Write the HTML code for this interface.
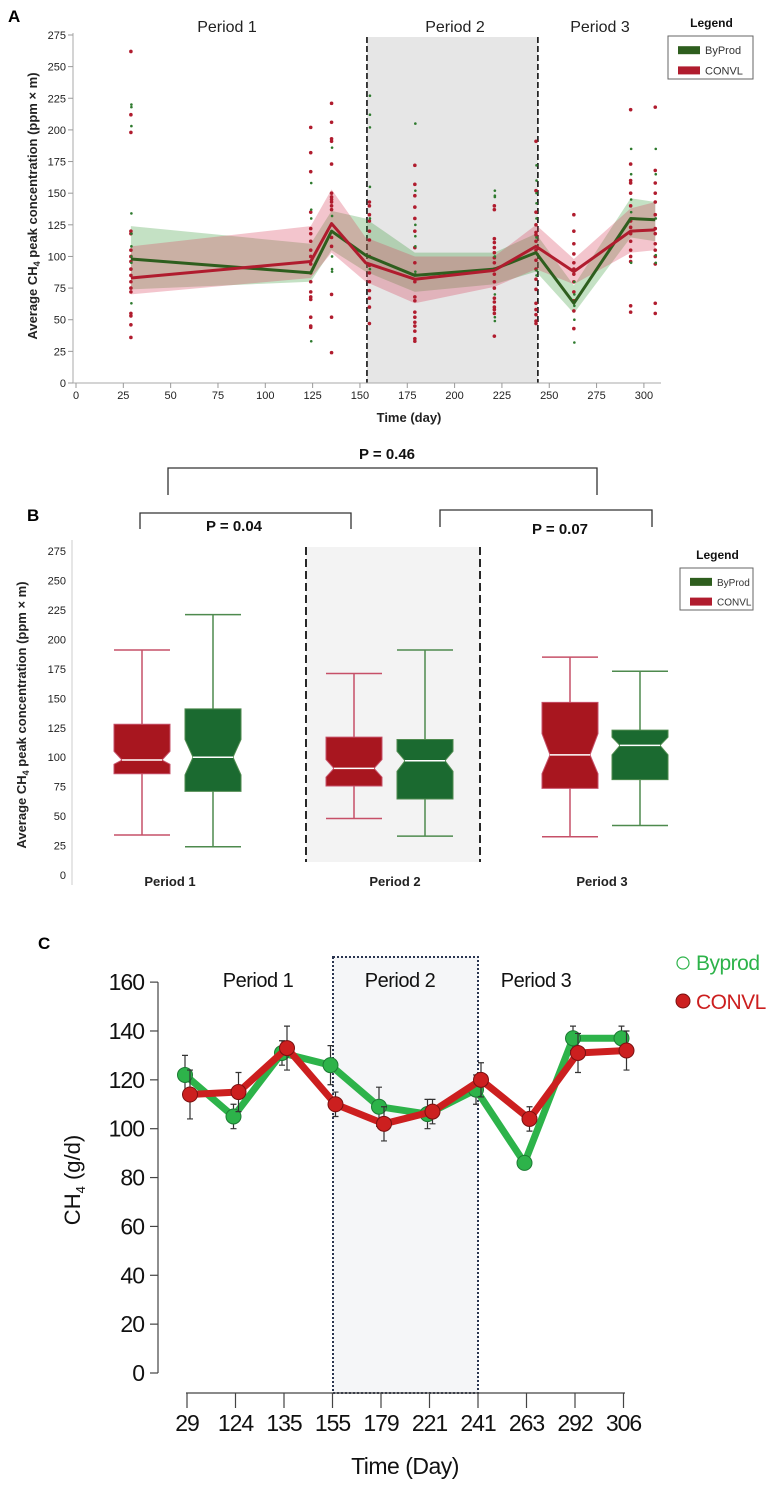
<!DOCTYPE html>
<html><head><meta charset="utf-8">
<style>
html,body{margin:0;padding:0;background:#fff;}
svg{display:block;font-family:"Liberation Sans Narrow","Liberation Sans",sans-serif;}
</style></head>
<body>
<svg id="fig" width="772" height="1486" viewBox="0 0 772 1486" xmlns="http://www.w3.org/2000/svg">
<g id="pa"></g>
<g id="pb"></g>
<g id="pc"></g>
</svg>
<script>
// ---------- Panel A data ----------
const aDays = [29,124,135,153,179,221,243,263,293,306];
const aGreen = [98,87,120,101,85,90,103,63,130,129];
const aRed = [83,96,126,95,82,89,108,88,120,121];
const aGreenUp = [124,110,136,130,103,103,118,77,146,143];
const aGreenLo = [74,80,105,88,72,78,88,55,115,112];
const aRedUp = [108,124,153,115,100,100,125,98,138,143];
const aRedLo = [70,83,103,80,63,76,90,78,103,105];
const aPtDays = [29,124,135,155,179,221,243,263,293,306];
const aRedPts = [
 [262,212,198,120,118,105,100,96,90,85,80,75,72,55,53,46,36],
 [202,182,167,135,122,118,112,105,100,94,87,80,72,68,66,52,45,44],
 [221,206,193,191,173,150,147,145,143,140,137,125,115,108,70,52,24],
 [143,140,133,128,120,113,100,93,87,80,73,67,60,47],
 [172,157,148,139,130,120,107,95,80,68,65,56,52,48,45,41,35,33],
 [140,137,114,111,107,103,99,95,90,86,80,75,67,64,60,58,55,37],
 [191,152,135,125,119,117,112,105,97,90,82,74,63,58,54,49,47],
 [133,120,110,102,95,90,86,80,72,65,57,43],
 [216,173,160,158,150,140,128,123,118,112,105,100,96,61,56],
 [218,168,158,150,143,133,122,118,110,105,100,94,63,55]];
const aGreenPts = [
 [220,218,203,134,118,108,100,95,63],
 [158,137,130,33],
 [186,132,100,90,88],
 [227,212,202,155,130,90],
 [205,152,125,116,108,88,86],
 [152,148,147,100,70,52,49],
 [172,160,150,142,130,115,89,85],
 [80,70,61,50,32],
 [185,165,145,135,130,95],
 [185,165,130,101,95]];
const aXTicks = [0,25,50,75,100,125,150,175,200,225,250,275,300];
const aYTicks = [0,25,50,75,100,125,150,175,200,225,250,275];

// ---------- Panel B data ----------
const bPeriods = ["Period 1","Period 2","Period 3"];
const bRedStats = [[34,86,94,97.6,105,128,191],[48,75.5,83,90.5,98,117,171],[32.5,73.5,86,102,120,146.5,185]];
const bGreenStats = [[24,71,85,100,115,141,221],[33,64.5,88,97,105,115,191],[42,81,102,110,117,123,173]];
const bYTicks = [0,25,50,75,100,125,150,175,200,225,250,275];

// ---------- Panel C data ----------
const cDays = ["29","124","135","155","179","221","241","263","292","306"];
const cGreen = [122,105,131,126,109,106,116,86,137,137];
const cRed = [114,115,133,110,102,107,120,104,131,132];
const cGreenErr = [8,5,5,8,8,6,6,2,5,5];
const cRedErr = [10,8,9,5,7,5,7,5,8,8];
const cYTicks = [0,20,40,60,80,100,120,140,160];

const NS="http://www.w3.org/2000/svg";
function mk(parent, tag, attrs, text){
  const e=document.createElementNS(NS,tag);
  for(const k in attrs) e.setAttribute(k,attrs[k]);
  if(text!==undefined) e.textContent=text;
  parent.appendChild(e); return e;
}

// ================= PANEL A =================
const pa=document.getElementById('pa');
const xA=d=>76+d*1.893, yA=v=>383-v*1.2655;
let t;
t=mk(pa,'text',{x:8,y:22,'font-size':17,'font-weight':'bold','font-family':'Liberation Sans,sans-serif'},'A');

let r=mk(pa,'rect',{x:xA(153.7),y:37,width:xA(244)-xA(153.7),height:383-37,fill:'#e6e6e6'});

[153.7,244].forEach(d=>{const l=mk(pa,'line',{x1:xA(d),x2:xA(d),y1:37,y2:383,stroke:'#111','stroke-width':1.6,'stroke-dasharray':'6,3'});
});
[["Period 1",227],["Period 2",455],["Period 3",600]].forEach(p=>{const e=mk(pa,'text',{x:p[1],y:32,'text-anchor':'middle','font-size':16,fill:'#222'},p[0]);
});
let ax=mk(pa,'line',{x1:73,x2:661,y1:383,y2:383,stroke:'#aaa'});
ax=mk(pa,'line',{x1:73,x2:73,y1:33,y2:383,stroke:'#aaa'});
aXTicks.forEach(v=>{mk(pa,'line',{x1:xA(v),x2:xA(v),y1:383,y2:388,stroke:'#999'});
 const e=mk(pa,'text',{x:xA(v),y:399,'text-anchor':'middle','font-size':11,fill:'#222'},String(v));
 });
aYTicks.forEach(v=>{mk(pa,'line',{x1:68,x2:73,y1:yA(v),y2:yA(v),stroke:'#999'});
 const e=mk(pa,'text',{x:66,y:yA(v)+4,'text-anchor':'end','font-size':11,fill:'#222'},String(v));
 });
t=mk(pa,'text',{x:409,y:422,'text-anchor':'middle','font-size':13,'font-weight':'bold',fill:'#222'},'Time (day)');

t=mk(pa,'text',{transform:'translate(37,206) rotate(-90)','text-anchor':'middle','font-size':13,'font-weight':'bold',fill:'#222','font-family':'Liberation Sans,sans-serif'});
t.innerHTML='Average CH<tspan font-size="9" dy="3">4</tspan><tspan dy="-3"> peak concentration (ppm × m)</tspan>';

function band(up,lo,fill,name){let d='';aDays.forEach((x,i)=>{d+=(i?'L':'M')+xA(x)+','+yA(up[i]);});
 for(let i=aDays.length-1;i>=0;i--) d+='L'+xA(aDays[i])+','+yA(lo[i]); d+='Z';
 const p=mk(pa,'path',{d:d,fill:fill,'fill-opacity':0.3});}
band(aGreenUp,aGreenLo,'#3c9a3c','byprod-ci-band');
band(aRedUp,aRedLo,'#d8405a','convl-ci-band');
aPtDays.forEach((d,i)=>{
 aRedPts[i].forEach(v=>{const c=mk(pa,'circle',{cx:xA(d),cy:yA(v),r:1.8,fill:'#b01c2e'});});
 aGreenPts[i].forEach(v=>{const c=mk(pa,'circle',{cx:xA(d)+0.5,cy:yA(v),r:1.3,fill:'#2e7a2e'});});
});
function line(vals,col,name){const p=mk(pa,'polyline',{points:aDays.map((d,i)=>xA(d)+','+yA(vals[i])).join(' '),fill:'none',stroke:col,'stroke-width':3,'stroke-linejoin':'round'});
 }
line(aGreen,'#2e5e1e','byprod-line');
line(aRed,'#b01c2e','convl-line');
function legend(g,x0,y0,y1,name,fs){
 const lg=mk(g,'g',{});
 mk(lg,'text',{x:(x0+753)/2+1,y:y0-9,'text-anchor':'middle','font-size':12,'font-weight':'bold',fill:'#111'},'Legend');
 mk(lg,'rect',{x:x0,y:y0,width:753-x0,height:y1-y0,fill:'#fff',stroke:'#666'});
 const h=(y1-y0);
 let s=mk(lg,'rect',{x:x0+10,y:y0+h*0.33-4,width:22,height:8,fill:'#2e5e1e'});
 mk(lg,'text',{x:x0+37,y:y0+h*0.33+4,'font-size':fs,fill:'#333'},'ByProd');
 s=mk(lg,'rect',{x:x0+10,y:y0+h*0.8-4,width:22,height:8,fill:'#b01c2e'});
 mk(lg,'text',{x:x0+37,y:y0+h*0.8+4,'font-size':fs,fill:'#333'},'CONVL');
}
legend(pa,668,36,79,'legend-a',11);

// ================= PANEL B =================
const pb=document.getElementById('pb');
const yB=v=>875-v*1.178;
const bRedX=[142,354,570], bGreenX=[213,425,640], bLabX=[170,395,602];
r=mk(pb,'rect',{x:306,y:547,width:174,height:315,fill:'#f3f3f3'});
[306,480].forEach(x=>{const l=mk(pb,'line',{x1:x,x2:x,y1:547,y2:862,stroke:'#111','stroke-width':1.8,'stroke-dasharray':'8,4'});});
t=mk(pb,'text',{x:27,y:521,'font-size':17,'font-weight':'bold','font-family':'Liberation Sans,sans-serif'},'B');
function bracket(x1,x2,yt,yb,label,lx,ly,name){const g=mk(pb,'g',{});
 mk(g,'path',{d:`M${x1},${yb} L${x1},${yt} L${x2},${yt} L${x2},${yb}`,fill:'none',stroke:'#333','stroke-width':1.3});
 mk(g,'text',{x:lx,y:ly,'text-anchor':'middle','font-size':15,'font-weight':'bold',fill:'#111'},label);}
bracket(168,597,468,495,'P = 0.46',387,459,'bracket-p046');
bracket(140,351,513,529,'P = 0.04',234,531,'bracket-p004');
bracket(440,652,510,527,'P = 0.07',560,534,'bracket-p007');
ax=mk(pb,'line',{x1:72,x2:72,y1:540,y2:885,stroke:'#ccc'});
bYTicks.forEach(v=>{const e=mk(pb,'text',{x:66,y:yB(v)+4,'text-anchor':'end','font-size':11,fill:'#222'},String(v));});
t=mk(pb,'text',{transform:'translate(26,715) rotate(-90)','text-anchor':'middle','font-size':13,'font-weight':'bold',fill:'#222','font-family':'Liberation Sans,sans-serif'});
t.innerHTML='Average CH<tspan font-size="9" dy="3">4</tspan><tspan dy="-3"> peak concentration (ppm × m)</tspan>';

function box(cx,s,fill,wcol,name){const g=mk(pb,'g',{});
 const w=28,n=8;
 mk(g,'line',{x1:cx,x2:cx,y1:yB(s[6]),y2:yB(s[0]),stroke:wcol,'stroke-width':1.5});
 mk(g,'line',{x1:cx-w,x2:cx+w,y1:yB(s[6]),y2:yB(s[6]),stroke:wcol,'stroke-width':1.5});
 mk(g,'line',{x1:cx-w,x2:cx+w,y1:yB(s[0]),y2:yB(s[0]),stroke:wcol,'stroke-width':1.5});
 const d=`M${cx-w},${yB(s[5])} L${cx+w},${yB(s[5])} L${cx+w},${yB(s[4])} L${cx+w-n},${yB(s[3])} L${cx+w},${yB(s[2])} L${cx+w},${yB(s[1])} L${cx-w},${yB(s[1])} L${cx-w},${yB(s[2])} L${cx-w+n},${yB(s[3])} L${cx-w},${yB(s[4])}Z`;
 mk(g,'path',{d:d,fill:fill,stroke:wcol,'stroke-width':1});
 mk(g,'line',{x1:cx-w+n,x2:cx+w-n,y1:yB(s[3]),y2:yB(s[3]),stroke:'#fff','stroke-width':1.5});}
bPeriods.forEach((p,i)=>{
 box(bRedX[i],bRedStats[i],'#a8161f','#c65068','convl-box-'+(i+1));
 box(bGreenX[i],bGreenStats[i],'#1b6a30','#4e8a4e','byprod-box-'+(i+1));
 const e=mk(pb,'text',{x:bLabX[i],y:886,'text-anchor':'middle','font-size':13,'font-weight':'bold',fill:'#222'},p);
 
});
legend(pb,680,568,610,'legend-b',10);

// ================= PANEL C =================
const pc=document.getElementById('pc');
const xC=i=>187+i*48.5, yC=v=>1373-v*2.443;
t=mk(pc,'text',{x:38,y:949,'font-size':17,'font-weight':'bold','font-family':'Liberation Sans,sans-serif'},'C');
r=mk(pc,'rect',{x:333,y:957,width:145,height:436,fill:'#f5f6f8',stroke:'#2a3550','stroke-width':2,'stroke-dasharray':'2,2'});

[["Period 1",258],["Period 2",400],["Period 3",536]].forEach(p=>{const e=mk(pc,'text',{x:p[1],y:987,'text-anchor':'middle','font-size':20,'letter-spacing':'-0.5',fill:'#111'},p[0]);});
ax=mk(pc,'line',{x1:158,x2:158,y1:yC(160),y2:yC(0),stroke:'#444','stroke-width':1.2});
ax=mk(pc,'line',{x1:186,x2:625,y1:1393,y2:1393,stroke:'#444','stroke-width':1.2});
cYTicks.forEach(v=>{mk(pc,'line',{x1:150,x2:158,y1:yC(v),y2:yC(v),stroke:'#444','stroke-width':1.2});
 const e=mk(pc,'text',{x:144,y:yC(v)+8,'text-anchor':'end','font-size':23,'letter-spacing':'-1',fill:'#111'},String(v));});
cDays.forEach((d,i)=>{mk(pc,'line',{x1:xC(i),x2:xC(i),y1:1393,y2:1408,stroke:'#444','stroke-width':1.2});
 const e=mk(pc,'text',{x:xC(i),y:1431,'text-anchor':'middle','font-size':23,'letter-spacing':'-1',fill:'#111'},d);});
t=mk(pc,'text',{x:405,y:1474,'text-anchor':'middle','font-size':23,'letter-spacing':'-0.5',fill:'#111'},'Time (Day)');
t=mk(pc,'text',{transform:'translate(80,1180) rotate(-90)','text-anchor':'middle','font-size':22,fill:'#111','font-family':'Liberation Sans,sans-serif'});
t.innerHTML='CH<tspan font-size="13" dy="5">4</tspan><tspan dy="-5"> (g/d)</tspan>';

function seriesC(vals,err,col,edge,off,name){
 const p=mk(pc,'polyline',{points:vals.map((v,i)=>(xC(i)+off)+','+yC(v)).join(' '),fill:'none',stroke:col,'stroke-width':7,'stroke-linejoin':'round'});
 
 vals.forEach((v,i)=>{const x=xC(i)+off;
  const e=mk(pc,'path',{d:`M${x},${yC(v+err[i])} L${x},${yC(v-err[i])} M${x-3},${yC(v+err[i])} L${x+3},${yC(v+err[i])} M${x-3},${yC(v-err[i])} L${x+3},${yC(v-err[i])}`,stroke:'#333','stroke-width':1.2,fill:'none'});
  
  const c=mk(pc,'circle',{cx:x,cy:yC(v),r:7.5,fill:col,stroke:edge,'stroke-width':1});
  });
}
seriesC(cGreen,cGreenErr,'#2db34a','#1c7a33',-2,'byprod');
seriesC(cRed,cRedErr,'#cc1f1f','#7a1010',3,'convl');
let lgc=mk(pc,'g',{});
mk(lgc,'circle',{cx:683,cy:963,r:6,fill:'none',stroke:'#2db34a','stroke-width':1.2});
mk(lgc,'text',{x:696,y:970,'font-size':21,'letter-spacing':'-0.5',fill:'#2db34a'},'Byprod');
mk(lgc,'circle',{cx:683,cy:1001,r:7,fill:'#cc1f1f',stroke:'#7a1010'});
mk(lgc,'text',{x:696,y:1009,'font-size':21,'letter-spacing':'-0.5',fill:'#cc1f1f'},'CONVL');
</script>
</body></html>
